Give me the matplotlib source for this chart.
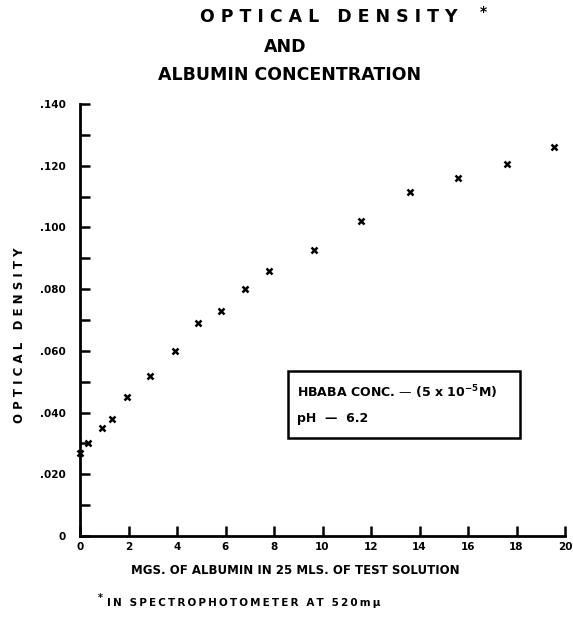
import matplotlib
matplotlib.use("Agg")
import matplotlib.pyplot as plt
from matplotlib.patches import Rectangle
from matplotlib.ticker import MultipleLocator, FixedLocator

# =================== Data ===================

albumin_mg = [0.0, 0.33, 0.9, 1.33, 1.93, 2.9, 3.9, 4.87, 5.8, 6.8, 7.8,
              9.65, 11.6, 13.6, 15.6, 17.6, 19.55]
optical_density = [0.027, 0.030, 0.035, 0.038, 0.045, 0.052, 0.060, 0.069,
                   0.073, 0.080, 0.086, 0.0927, 0.102, 0.1116, 0.116,
                   0.1205, 0.126]

x_ticks = [0, 2, 4, 6, 8, 10, 12, 14, 16, 18, 20]
y_ticks = [0, 0.020, 0.040, 0.060, 0.080, 0.100, 0.120, 0.140]
y_tick_labels = ["0", ".020", ".040", ".060", ".080", ".100", ".120", ".140"]

# =================== Helpers ===================

W, H = 573, 619

def px(x, y):
    return x / W, 1 - y / H

def spread(s, sep="\u2009"):
    # old lettering guides are widely spaced
    return sep.join(s)

# =================== Figure ===================

plt.rcParams['font.family'] = ['DejaVu Sans']
fig = plt.figure(figsize=(W / 100, H / 100), dpi=100)

ax = fig.add_axes([80 / W, (H - 536) / H, 485 / W, 432 / H])
ax.plot(albumin_mg, optical_density, linestyle='none', marker='x',
        color='black', markersize=4.5, markeredgewidth=1.8, clip_on=False)

ax.set_xlim(0, 20)
ax.set_ylim(0, 0.140)
ax.spines['top'].set_visible(False)
ax.spines['right'].set_visible(False)
ax.spines['left'].set_linewidth(2)
ax.spines['bottom'].set_linewidth(2)

ax.xaxis.set_major_locator(FixedLocator(x_ticks))
ax.set_xticklabels([str(t) for t in x_ticks])
ax.yaxis.set_major_locator(FixedLocator(y_ticks))
ax.yaxis.set_minor_locator(MultipleLocator(0.010))
ax.set_yticklabels(y_tick_labels)
ax.tick_params(axis='both', which='both', direction='in', length=7,
               width=1.8, labelsize=7.5)
ax.tick_params(axis='y', pad=10)
ax.tick_params(axis='x', pad=4)
for lab in ax.get_xticklabels() + ax.get_yticklabels():
    lab.set_fontweight('bold')

# inset box with conditions
ax.add_patch(Rectangle((8.58, 0.0318), 9.56, 0.0217, fill=False,
                       edgecolor='black', linewidth=1.8))
ax.text(8.95, 0.0467, "HBABA CONC. \u2014 (5 x 10$^{\\mathbf{-5}}$M)",
        fontsize=9, fontweight='bold', va='center')
ax.text(8.95, 0.0382, "pH  \u2014  6.2", fontsize=9, fontweight='bold',
        va='center')

# =================== Text ===================

fig.text(*px(329, 17), " ".join("OPTICAL") + "   " + " ".join("DENSITY"),
         fontsize=12.5, fontweight='bold', ha='center', va='center')
fig.text(*px(483, 12), "*", fontsize=10, fontweight='bold',
         ha='center', va='center')
fig.text(*px(285, 47), "AND", fontsize=12.5, fontweight='bold',
         ha='center', va='center')
fig.text(*px(290, 75), "ALBUMIN CONCENTRATION", fontsize=12.5,
         fontweight='bold', ha='center', va='center')

fig.text(*px(20, 335), " ".join("OPTICAL") + "   " + " ".join("DENSITY"),
         fontsize=8.5, fontweight='bold', rotation=90,
         ha='center', va='center')
fig.text(*px(295, 571), "MGS. OF ALBUMIN IN 25 MLS. OF TEST SOLUTION",
         fontsize=8.5, fontweight='bold', ha='center', va='center')
fig.text(*px(100, 598), "*", fontsize=7, fontweight='bold',
         ha='center', va='center')
fig.text(*px(107, 603), spread("IN SPECTROPHOTOMETER AT 520m\u03bc"),
         fontsize=7.5, fontweight='bold', ha='left', va='center')

fig.savefig("out.png", dpi=100)
